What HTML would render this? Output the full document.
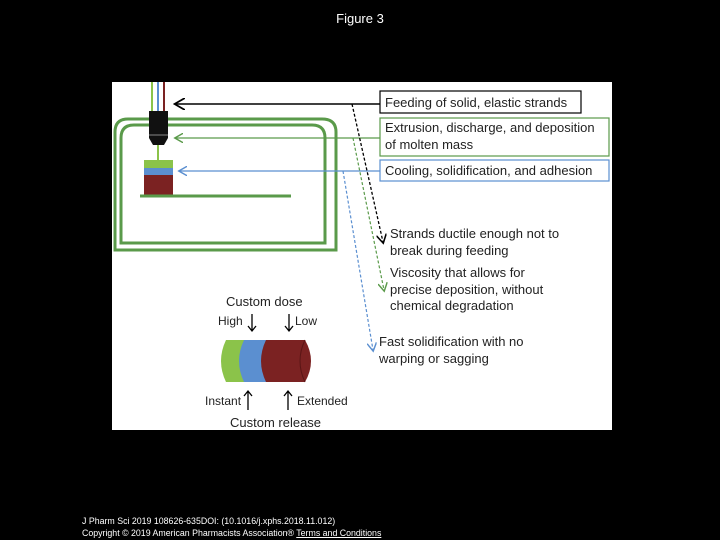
<!DOCTYPE html>
<html><head><style>
body{margin:0;background:#000;width:720px;height:540px;overflow:hidden;position:relative;font-family:"Liberation Sans",sans-serif}
</style></head><body>
<div style="position:absolute;top:11px;left:0;width:720px;text-align:center;color:#fff;font-size:13px">Figure 3</div>
<svg style="position:absolute;left:0;top:0" width="720" height="540">
<rect x="112" y="82" width="500" height="348" fill="#fff"/>
<defs>
<marker id="ak" markerWidth="8" markerHeight="8" refX="6" refY="4" orient="auto"><path d="M0,0L7,4L0,8" fill="none" stroke="#000" stroke-width="1.2"/></marker>
<marker id="ag" markerWidth="8" markerHeight="8" refX="6" refY="4" orient="auto"><path d="M0,0L7,4L0,8" fill="none" stroke="#5a9a4a" stroke-width="1.2"/></marker>
<marker id="ab" markerWidth="8" markerHeight="8" refX="6" refY="4" orient="auto"><path d="M0,0L7,4L0,8" fill="none" stroke="#5b8fd0" stroke-width="1.2"/></marker>
</defs>
<g fill="none" stroke="#5a9a4a" stroke-width="3">
<path d="M115,250 V132 Q115,119 128,119 H322 Q336,119 336,132 V250 Z"/>
<path d="M121,243 V138 Q121,125 134,125 H312 Q325,125 325,138 V243 Z"/>
</g>
<line x1="152" y1="82" x2="152" y2="112" stroke="#8bc34a" stroke-width="2"/>
<line x1="158" y1="82" x2="158" y2="112" stroke="#5b8fd0" stroke-width="2"/>
<line x1="164" y1="82" x2="164" y2="112" stroke="#7b2222" stroke-width="2"/>
<path d="M149,111 H168 V138 L164,145 H153 L149,138 Z" fill="#111"/>
<line x1="149" y1="135" x2="168" y2="135" stroke="#888" stroke-width="1"/>
<line x1="158" y1="145" x2="158" y2="160" stroke="#8bc34a" stroke-width="2"/>
<rect x="144" y="160" width="29" height="8" fill="#8bc34a"/>
<rect x="144" y="168" width="29" height="7" fill="#5b8fd0"/>
<rect x="144" y="175" width="29" height="20" fill="#7b2222"/>
<line x1="140" y1="196" x2="291" y2="196" stroke="#5a9a4a" stroke-width="3"/>
<line x1="380" y1="104" x2="176" y2="104" stroke="#000" stroke-width="1.5" marker-end="url(#ak)"/>
<line x1="380" y1="138" x2="176" y2="138" stroke="#5a9a4a" stroke-width="1.2" marker-end="url(#ag)"/>
<line x1="380" y1="171" x2="180" y2="171" stroke="#5b8fd0" stroke-width="1.2" marker-end="url(#ab)"/>
<line x1="352" y1="104" x2="383" y2="242" stroke="#000" stroke-width="1.3" stroke-dasharray="3,2" marker-end="url(#ak)"/>
<line x1="353" y1="138" x2="384" y2="290" stroke="#5a9a4a" stroke-width="1.2" stroke-dasharray="3,2" marker-end="url(#ag)"/>
<line x1="343" y1="171" x2="373" y2="350" stroke="#5b8fd0" stroke-width="1.2" stroke-dasharray="3,2" marker-end="url(#ab)"/>
<rect x="380" y="91" width="201" height="22" fill="#fff" stroke="#000" stroke-width="1.2"/>
<rect x="380" y="118" width="229" height="38" fill="#fff" stroke="#5a9a4a" stroke-width="1.2"/>
<rect x="380" y="160" width="229" height="21" fill="#fff" stroke="#5b8fd0" stroke-width="1.2"/>
<g font-size="13" fill="#222">
<text x="385" y="107">Feeding of solid, elastic strands</text>
<text x="385" y="132">Extrusion, discharge, and deposition</text>
<text x="385" y="149">of molten mass</text>
<text x="385" y="175">Cooling, solidification, and adhesion</text>
<text x="390" y="238">Strands ductile enough not to</text>
<text x="390" y="255">break during feeding</text>
<text x="390" y="277">Viscosity that allows for</text>
<text x="390" y="294">precise deposition, without</text>
<text x="390" y="310">chemical degradation</text>
<text x="379" y="346">Fast solidification with no</text>
<text x="379" y="363">warping or sagging</text>
<text x="226" y="306">Custom dose</text>
<text x="230" y="427">Custom release</text>
</g>
<g font-size="12" fill="#222">
<text x="218" y="325">High</text>
<text x="295" y="325">Low</text>
<text x="205" y="405">Instant</text>
<text x="297" y="405">Extended</text>
</g>
<g stroke="#000" stroke-width="1.3" fill="none">
<path d="M252,314 V330 M248,326 L252,331 L256,326"/>
<path d="M289,314 V330 M285,326 L289,331 L293,326"/>
<path d="M248,410 V392 M244,396 L248,391 L252,396"/>
<path d="M288,410 V392 M284,396 L288,391 L292,396"/>
</g>
<path d="M226,340 H245 V382 H226 Q216,361 226,340 Z" fill="#8bc34a"/>
<path d="M244,340 H268 V382 H244 Q234,361 244,340 Z" fill="#5b8fd0"/>
<path d="M266,340 H305 Q317,361 305,382 H266 Q256,361 266,340 Z" fill="#7b2222"/>
<path d="M305,340 Q295,361 305,382" fill="none" stroke="#5a1515" stroke-width="1"/>
</svg>
<div style="position:absolute;left:82px;top:515px;color:#fff;font-size:8.8px;line-height:12px;white-space:nowrap">J Pharm Sci 2019 108626-635DOI: (10.1016/j.xphs.2018.11.012)<br>Copyright © 2019 American Pharmacists Association® <u>Terms and Conditions</u></div>
</body></html>
